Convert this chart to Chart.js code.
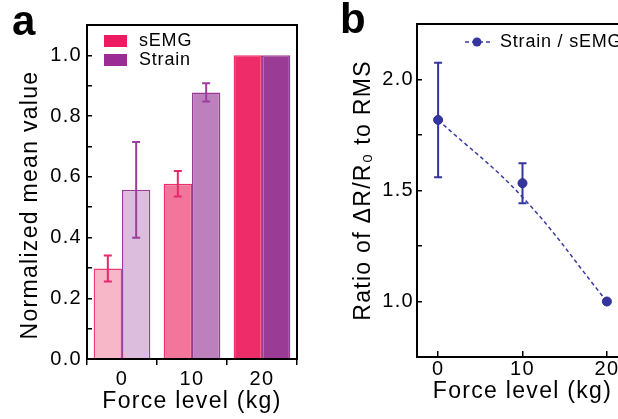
<!DOCTYPE html>
<html><head><meta charset="utf-8">
<script src="https://cdn.jsdelivr.net/npm/chart.js@4"></script>
<style>
html,body{margin:0;padding:0;width:618px;height:419px;overflow:hidden;background:#fff;}
#wa{position:absolute;left:0;top:0;width:310px;height:419px;}
#wb{position:absolute;left:310px;top:0;width:330px;height:419px;}
</style></head><body>
<div id="wa"><canvas id="ca" width="310" height="419"></canvas></div>
<div id="wb"><canvas id="cb" width="330" height="419"></canvas></div>
<script>
// ---- data (panel a) ----
const forceLevels = ['0', '10', '20'];
const semgMeans = [0.298, 0.577, 1.0];
const semgErrors = [0.043, 0.042, 0];
const strainMeans = [0.557, 0.878, 1.0];
const strainErrors = [0.158, 0.030, 0];
// ---- data (panel b) ----
const ratioForce = [0, 10, 20];
const ratioValues = [1.818, 1.533, 1.0];
const ratioErrors = [0.258, 0.090, 0];
const ratioFit = [1.818, 1.47, 1.0];
const ratioYTickLabels = ['1.0', '1.5', '2.0'];

const FONT = "'Liberation Sans', Arial, sans-serif";
const SPACING = '1.3px';
Chart.defaults.font.family = FONT;
Chart.defaults.color = '#000';

const spacingPlugin = {
  id: 'spacing',
  beforeDraw(chart) { chart.ctx.letterSpacing = SPACING; }
};

function frame(chart) {
  const {ctx, chartArea: a} = chart;
  ctx.save();
  ctx.strokeStyle = '#000';
  ctx.lineWidth = 2;
  ctx.strokeRect(a.left, a.top, a.right - a.left, a.bottom - a.top);
  ctx.restore();
}

function drawErrorBars(chart) {
  const ctx = chart.ctx;
  const yScale = chart.scales.y;
  chart.data.datasets.forEach((ds, di) => {
    if (!ds.errors) return;
    const meta = chart.getDatasetMeta(di);
    ctx.save();
    ctx.strokeStyle = ds.errorColor;
    ctx.lineWidth = 2;
    meta.data.forEach((el, i) => {
      const e = ds.errors[i];
      if (!e) return;
      const v = typeof ds.data[i] === 'object' ? ds.data[i].y : ds.data[i];
      const yt = yScale.getPixelForValue(v + e);
      const yb = yScale.getPixelForValue(v - e);
      const x = el.x;
      const cap = 4;
      ctx.beginPath();
      ctx.moveTo(x, yt); ctx.lineTo(x, yb);
      ctx.moveTo(x - cap, yt); ctx.lineTo(x + cap, yt);
      ctx.moveTo(x - cap, yb); ctx.lineTo(x + cap, yb);
      ctx.stroke();
    });
    ctx.restore();
  });
}

// ---------- Panel a ----------
const yTitleA = 'Normalized mean value';
const panelA = {
  id: 'panelA',
  afterDatasetsDraw(chart) { drawErrorBars(chart); },
  afterDraw(chart) {
    frame(chart);
    const {ctx, chartArea: a} = chart;
    ctx.save();
    // y-axis title
    ctx.save();
    ctx.letterSpacing = SPACING;
    ctx.font = "23px " + FONT;
    ctx.fillStyle = '#000';
    ctx.textAlign = 'center';
    ctx.textBaseline = 'alphabetic';
    ctx.translate(37, (a.top + a.bottom) / 2 + 13);
    ctx.rotate(-Math.PI / 2);
    ctx.fillText(yTitleA, 0, 0);
    ctx.restore();
    // panel letter
    ctx.letterSpacing = '0px';
    ctx.font = "bold 42px " + FONT;
    ctx.fillStyle = '#000';
    ctx.textBaseline = 'alphabetic';
    ctx.fillText('a', 12, 35);
    const items = [
      {label: chart.data.datasets[0].label, color: '#ee1b62'},
      {label: chart.data.datasets[1].label, color: '#9a2c94'}
    ];
    ctx.letterSpacing = '0.8px';
    ctx.font = "18px " + FONT;
    ctx.textBaseline = 'middle';
    items.forEach((it, i) => {
      const y = a.top + 10 + i * 19;
      ctx.fillStyle = it.color;
      ctx.fillRect(a.left + 17, y, 23, 12);
      ctx.fillStyle = '#000';
      ctx.fillText(it.label, a.left + 52, y + 6);
    });
    ctx.restore();
  }
};

new Chart(document.getElementById('ca'), {
  type: 'bar',
  data: {
    labels: forceLevels,
    datasets: [
      {
        label: 'sEMG', data: semgMeans, errors: semgErrors, errorColor: '#e8286b',
        backgroundColor: ['#f8b7c9', '#f2769b', '#ee2c6a'],
        borderColor: ['#ee3a76', '#ee2d6b', '#ee2c6a'], borderWidth: 1.5
      },
      {
        label: 'Strain', data: strainMeans, errors: strainErrors, errorColor: '#9b3f9b',
        backgroundColor: ['#dcbddd', '#be7fbd', '#9a3c96'],
        borderColor: ['#9c3f9c', '#9a3a98', '#9a3c96'], borderWidth: 1.5
      }
    ]
  },
  options: {
    responsive: false, animation: false, devicePixelRatio: 1,
    layout: {padding: {left: 0, right: 13, top: 25, bottom: 0}},
    plugins: {legend: {display: false}, tooltip: {enabled: false}},
    datasets: {bar: {categoryPercentage: 0.81, barPercentage: 1.0}},
    scales: {
      x: {
        afterFit: s => { s.height = 60; },
        grid: {display: true, drawOnChartArea: false, tickLength: 6, color: '#000', lineWidth: 1.5},
        border: {display: true, color: '#000', width: 2},
        ticks: {font: {size: 20}, padding: 2, color: '#000'},
        title: {display: true, text: 'Force level (kg)', font: {size: 23}, padding: {top: 0, bottom: 4}, color: '#000'}
      },
      y: {
        min: 0, max: 1.1,
        afterFit: s => { s.width = 87; },
        grid: {display: true, drawOnChartArea: false, tickLength: -5, color: '#000', lineWidth: 1.5},
        border: {display: true, color: '#000', width: 2},
        ticks: {
          stepSize: 0.1, font: {size: 20}, padding: 10, color: '#000',
          callback: v => (Math.round(v * 10) % 2 === 0 && v < 1.05) ? v.toFixed(1) : ''
        },
        title: {display: false}
      }
    }
  },
  plugins: [spacingPlugin, panelA]
});

// ---------- Panel b ----------
const panelB = {
  id: 'panelB',
  afterDraw(chart) {
    frame(chart);
    const {ctx, chartArea: a} = chart;
    ctx.save();
    ctx.letterSpacing = '0px';
    ctx.font = "bold 42px " + FONT;
    ctx.fillStyle = '#000';
    ctx.textBaseline = 'alphabetic';
    ctx.fillText('b', 30, 33);
    // legend
    const ly = a.top + 18;
    const lx = a.left + 48;
    ctx.strokeStyle = '#3a3aa5';
    ctx.lineWidth = 1.5;
    ctx.setLineDash([4, 3]);
    ctx.beginPath(); ctx.moveTo(lx, ly); ctx.lineTo(lx + 28, ly); ctx.stroke();
    ctx.setLineDash([]);
    ctx.fillStyle = '#3535a0';
    ctx.beginPath(); ctx.arc(lx + 12, ly, 4.5, 0, Math.PI * 2); ctx.fill();
    ctx.fillStyle = '#000';
    ctx.letterSpacing = '0.8px';
    ctx.font = "18px " + FONT;
    ctx.textBaseline = 'middle';
    ctx.fillText(chart.data.datasets[0].label, lx + 35, ly);
    ctx.restore();
  }
};
const errPlugin = {
  id: 'errB',
  beforeDatasetDraw(chart, args) {
    if (args.index === 0) drawErrorBars(chart);
  }
};

new Chart(document.getElementById('cb'), {
  type: 'scatter',
  data: {
    datasets: [
      {
        label: 'Strain / sEMG',
        data: ratioForce.map((x, i) => ({x, y: ratioValues[i]})),
        errors: ratioErrors, errorColor: '#3535a0',
        showLine: false, pointRadius: 4.5, pointBackgroundColor: '#3535a0',
        pointBorderColor: '#2c2c95', pointBorderWidth: 1, order: 1
      },
      {
        label: 'fit',
        data: ratioForce.map((x, i) => ({x, y: ratioFit[i]})),
        showLine: true, borderColor: '#3a3aa5', borderWidth: 1.5, borderDash: [4, 3],
        pointRadius: 0, tension: 0.4, order: 2
      }
    ]
  },
  options: {
    responsive: false, animation: false, devicePixelRatio: 1,
    layout: {padding: {left: 0, right: 12, top: 24, bottom: 0}},
    plugins: {legend: {display: false}, tooltip: {enabled: false}},
    scales: {
      x: {
        type: 'linear', min: -2.5, max: 22.5,
        afterFit: s => { s.height = 62; },
        afterBuildTicks: s => { s.ticks = ratioForce.map(v => ({value: v})); },
        grid: {display: true, drawOnChartArea: false, tickLength: -6, color: '#000', lineWidth: 1.5},
        border: {display: true, color: '#000', width: 2},
        ticks: {font: {size: 20}, padding: 6, color: '#000', callback: v => String(v)},
        title: {display: true, text: 'Force level (kg)', font: {size: 23}, padding: {top: 0, bottom: 14}, color: '#000'}
      },
      y: {
        min: 0.75, max: 2.25,
        afterFit: s => { s.width = 107; },
        grid: {display: true, drawOnChartArea: false, tickLength: -5, color: '#000', lineWidth: 1.5},
        border: {display: true, color: '#000', width: 2},
        ticks: {
          stepSize: 0.25, font: {size: 20}, padding: 8, color: '#000',
          callback: v => { const s = v.toFixed(1); return (Math.abs(v * 2 - Math.round(v * 2)) < 1e-6 && ratioYTickLabels.includes(s)) ? s : ''; }
        },
        title: {display: true, text: 'Ratio of \u0394R/R\u2080 to RMS', font: {size: 23}, padding: {top: 40, bottom: 0}, color: '#000'}
      }
    }
  },
  plugins: [spacingPlugin, panelB, errPlugin]
});
</script>
</body></html>
